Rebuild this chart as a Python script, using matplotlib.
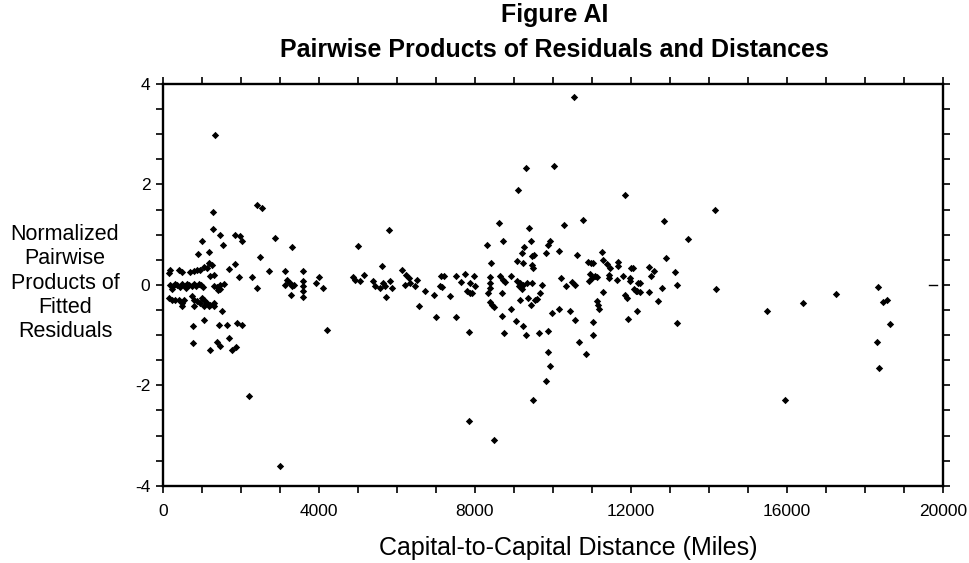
"""Figure AI: pairwise products of residuals against capital-to-capital distance."""

import matplotlib
matplotlib.use("Agg")
import matplotlib.pyplot as plt
from matplotlib.ticker import MultipleLocator

plt.rcParams["font.family"] = ["Liberation Sans", "DejaVu Sans"]
plt.rcParams["axes.unicode_minus"] = False

TITLE_TOP = "Figure AI"
TITLE_BOTTOM = "Pairwise Products of Residuals and Distances"
X_LABEL = "Capital-to-Capital Distance (Miles)"
Y_LABEL = "Normalized\nPairwise\nProducts of\nFitted\nResiduals"

# distances (miles)
short_dist = [
    190, 250, 310, 370, 430, 500, 560, 620, 680, 740, 800, 860, 920, 980, 1020, 230, 600,
    1298, 1385, 1469, 1554, 1400, 1470,
    145, 187, 400, 487, 700, 786, 872, 956,
    1213, 1298, 1170, 1256, 1041, 1128,
    888, 1170, 1000, 1272, 1272, 1323, 1469, 1528,
    1854, 1982, 2026, 2410, 2538, 2879, 3308, 2478,
    1683, 1854, 1940, 2282, 2708, 3136, 3580, 2410,
    3179, 3264, 3136, 3308, 3282, 3349,
    3580, 3580, 3580, 3580,
    3991, 3932, 4103, 4205,
    145, 231, 316, 402, 487, 530, 487, 743, 786, 872, 956, 1000, 1041, 1128, 1213, 1298,
    786, 1041, 1170, 1298, 1513,
    1041, 769, 1426, 1641, 1897, 2026,
    769, 1213, 1385, 1469, 1683, 1769, 1879, 2196, 2991,
]
short_prod = [
    0.00, -0.03, 0.02, 0.00, -0.04, 0.01, -0.02, 0.02, 0.00, -0.03, 0.01, -0.02, 0.02, 0.00, -0.05, -0.08, -0.07,
    -0.02, -0.05, 0.00, 0.02, -0.10, -0.09,
    0.23, 0.30, 0.30, 0.25, 0.25, 0.27, 0.29, 0.30,
    0.18, 0.20, 0.43, 0.40, 0.36, 0.33,
    0.62, 0.66, 0.88, 1.11, 1.46, 2.98, 0.99, 0.80,
    0.99, 0.98, 0.88, 1.59, 1.53, 0.93, 0.76, 0.55,
    0.31, 0.42, 0.15, 0.15, 0.28, 0.27, 0.27, -0.07,
    0.10, 0.03, 0.00, -0.03, -0.20, 0.00,
    0.07, -0.03, -0.13, -0.25,
    0.15, 0.03, -0.07, -0.90,
    -0.27, -0.30, -0.31, -0.30, -0.36, -0.30, -0.43, -0.23, -0.30, -0.33, -0.36, -0.27, -0.30, -0.36, -0.40, -0.36,
    -0.43, -0.43, -0.43, -0.43, -0.51,
    -0.70, -0.82, -0.80, -0.80, -0.76, -0.80,
    -1.16, -1.29, -1.13, -1.21, -1.06, -1.29, -1.23, -2.21, -3.60,
]

mid_dist = [
    5786, 4991, 5615, 4872, 4930, 5059, 5162,
    5385, 5444, 5572, 5641, 5700, 5726, 5828, 5872,
    6128, 6238, 6297, 6213, 6341, 6469, 6513,
    6572, 6726, 6940, 7008, 7128, 7213, 7154, 7349, 7110,
    7521, 7735, 7966, 7641, 7863, 8008, 7521, 7836, 7836, 7795, 7880, 7923,
]
mid_prod = [
    1.09, 0.78, 0.38, 0.15, 0.09, 0.07, 0.20,
    0.07, -0.03, -0.07, 0.03, -0.03, -0.24, 0.07, -0.07,
    0.30, 0.20, 0.13, 0.00, 0.03, -0.03, 0.10,
    -0.42, -0.13, -0.20, -0.63, 0.17, 0.17, -0.05, -0.23, -0.03,
    0.17, 0.22, 0.18, 0.05, 0.03, -0.03, -0.63, -0.93, -2.70, -0.13, -0.16, -0.17,
]

far_dist = [
    10538, 9315, 10033, 9103, 8605, 9385, 10282, 10777, 8308, 8708, 9436, 9931, 9887, 10144,
    9264, 9205, 9462, 9504, 9828, 10615,
    8418, 9092, 9246, 9462, 9487,
    8375, 8393, 8375, 8323, 8649, 8733, 8777, 8931,
    9077, 9162, 9231, 9118, 9205, 9333, 9462,
    8692, 9674, 9718, 9144, 9374, 9436, 9546, 9605,
    8375, 8435, 8495, 8931, 8692, 9059, 9231, 9315, 8751, 9656, 9887,
    9974, 10144, 10444, 10554, 10674, 10846, 9880, 9931, 9828, 9487, 8487,
    10205, 10341, 10487, 10572,
    10905, 10970, 11037, 10956, 10999, 10938, 11085, 11128,
    11256, 11290, 11380, 11470, 11682, 11658, 12000, 12051,
    11426, 11426, 11641, 11810, 11982, 11965, 12195,
    11297, 11854, 11897, 12068, 12154, 11128, 11160, 11195, 12154, 11017, 11923, 11026,
    11854, 14162, 12854, 13477, 12469, 12580, 12521, 12905, 13144, 12238, 12120, 12238,
    12469, 12795, 13187, 12700, 13187, 14170, 15503,
    16410, 17264, 15956, 18350, 18477, 18564, 18649, 18308, 18375,
]
far_prod = [
    3.73, 2.33, 2.37, 1.89, 1.23, 1.14, 1.19, 1.29, 0.80, 0.88, 0.88, 0.88, 0.80, 0.68,
    0.75, 0.63, 0.58, 0.60, 0.63, 0.59,
    0.43, 0.48, 0.43, 0.40, 0.33,
    0.15, 0.03, -0.07, -0.17, 0.18, 0.10, 0.05, 0.18,
    0.07, 0.03, 0.00, -0.03, -0.09, 0.03, 0.03,
    -0.17, -0.17, 0.00, -0.30, -0.26, -0.40, -0.30, -0.28,
    -0.35, -0.40, -0.44, -0.48, -0.62, -0.71, -0.82, -1.00, -0.96, -0.95, -0.91,
    -0.55, -0.48, -0.51, -0.70, -1.13, -1.38, -1.33, -1.61, -1.92, -2.30, -3.08,
    0.13, -0.03, 0.05, 0.00,
    0.46, 0.44, 0.43, 0.22, 0.13, 0.07, 0.18, 0.15,
    0.66, 0.50, 0.42, 0.34, 0.46, 0.38, 0.33, 0.33,
    0.20, 0.13, 0.10, 0.18, 0.13, 0.07, 0.03,
    -0.15, -0.20, -0.27, -0.09, -0.13, -0.33, -0.40, -0.48, -0.51, -0.73, -0.68, -1.00,
    1.78, 1.49, 1.27, 0.91, 0.36, 0.27, 0.17, 0.53, 0.26, 0.03, -0.12, -0.15,
    -0.15, -0.07, -0.01, -0.33, -0.75, -0.09, -0.51,
    -0.36, -0.18, -2.29, -0.05, -0.34, -0.30, -0.78, -1.13, -1.65,
]


def main() -> None:
    distances = short_dist + mid_dist + far_dist
    products = short_prod + mid_prod + far_prod

    fig = plt.figure(figsize=(9.7, 5.63), dpi=100)
    ax = fig.add_axes([0.168, 0.137, 0.804, 0.714])

    ax.scatter(distances, products, marker="D", s=14, color="black", linewidths=0)

    ax.set_xlim(0, 20000)
    ax.set_ylim(-4, 4)
    ax.xaxis.set_major_locator(MultipleLocator(4000))
    ax.xaxis.set_minor_locator(MultipleLocator(1000))
    ax.yaxis.set_major_locator(MultipleLocator(2))
    ax.yaxis.set_minor_locator(MultipleLocator(0.5))
    ax.tick_params(which="both", direction="out", top=True, right=True,
                   length=5, width=1.2, labelsize=12.5, color="black")
    ax.tick_params(axis="x", pad=8)
    ax.tick_params(axis="y", pad=4)
    # small inward mark at zero on the right edge
    ax.axhline(0, xmin=0.982, xmax=0.993, color="black", linewidth=1.0)

    for spine in ax.spines.values():
        spine.set_linewidth(1.7)

    fig.text(0.586, 0.027, X_LABEL, ha="center", va="center", fontsize=18)
    fig.text(0.067, 0.497, Y_LABEL, ha="center", va="center",
             fontsize=15.5, linespacing=1.2)
    fig.text(0.572, 0.973, TITLE_TOP, ha="center", va="center",
             fontsize=18, fontweight="bold")
    fig.text(0.572, 0.911, TITLE_BOTTOM, ha="center", va="center",
             fontsize=18, fontweight="bold")

    fig.savefig("out.png", dpi=100)
    plt.close(fig)


if __name__ == "__main__":
    main()
